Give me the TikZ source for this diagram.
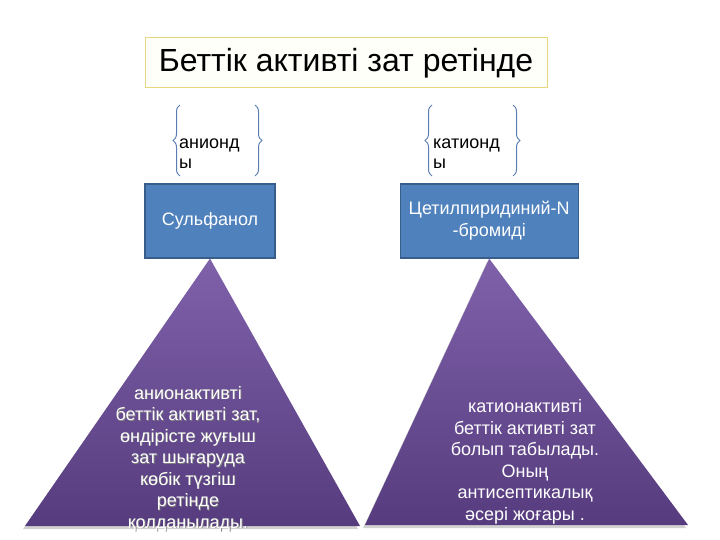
\documentclass[tikz,border=0pt]{standalone}
\usepackage{fontspec}
\setsansfont{Liberation Sans}
\usetikzlibrary{decorations.pathreplacing, positioning, calc}
\tikzstyle{every picture}+=[font=\sffamily]
\tikzstyle{bluebox}=[draw=boxborder, fill=boxblue, line width=1.2pt, text=white,
  align=center, minimum height=74pt, inner sep=2pt,
  font=\sffamily\fontsize{18}{22}\selectfont]
\tikzstyle{bracelabel}=[anchor=base west, align=left, inner sep=0pt,
  font=\sffamily\fontsize{18}{20}\selectfont]
\tikzstyle{curly}=[draw=bracecol, line width=1pt, decorate,
  decoration={brace, amplitude=7pt, aspect=0.5}]
\tikzstyle{pyramid}=[top color=pyrtop, bottom color=pyrbot, draw=none]
\tikzstyle{pyrtext}=[anchor=base, align=center, inner sep=0pt, text=white,
  font=\sffamily\fontsize{18}{21.5}\selectfont]

\begin{document}
\begin{tikzpicture}[x=1pt, y=-1pt]
\definecolor{boxblue}{RGB}{79,129,189}
\definecolor{boxborder}{RGB}{56,93,138}
\definecolor{bracecol}{RGB}{91,125,177}
\definecolor{pyrtop}{RGB}{127,97,170}
\definecolor{pyrbot}{RGB}{86,60,126}
\definecolor{titleline}{RGB}{232,214,125}
\definecolor{titlefill}{RGB}{255,255,249}
\useasboundingbox (0,0) rectangle (720,540);

%% title
\node (title) [draw=titleline, fill=titlefill, line width=1pt,
  minimum width=402pt, minimum height=50pt,
  font=\sffamily\fontsize{32}{36}\selectfont] at (346,63) {Беттік активті зат ретінде};

%% boxes
\node (sulf) [bluebox, minimum width=130pt] at (210,221) {Сульфанол};
\node (cetyl) [bluebox, minimum width=178pt, right=124pt of sulf]
  {Цетилпиридиний-N\\-бромиді};

%% braces
\node (anion) [bracelabel] at (179,169) {анионд\\ы};
\draw[curly] (180,176) -- (180,105);
\draw[curly] (255,105) -- (255,176);

\node (cation) [bracelabel] at (433,169) {катионд\\ы};
\draw[curly] (432,176) -- (432,105);
\draw[curly] (513,105) -- (513,176);

%% pyramids
\coordinate (ltop) at (sulf.south);
\coordinate (rtop) at (cetyl.south);
\fill[black!18] ($(ltop)+(-2,3)$) -- (23,529) -- (358,529) -- cycle;
\fill[black!18] ($(rtop)+(-2,3)$) -- (363,528) -- (686,528) -- cycle;
\path[pyramid] (ltop) -- (25,526) -- (360,526) -- cycle;
\path[pyramid] (rtop) -- (365,525) -- (688,525) -- cycle;

\node (anitextshadow) [pyrtext, text=black!50] at (188.8,528.8)
  {анионактивті\\беттік активті зат,\\өндірісте жуғыш\\зат шығаруда\\көбік түзгіш\\ретінде\\қолданылады.};
\node (anitext) [pyrtext] at (188,528)
  {анионактивті\\беттік активті зат,\\өндірісте жуғыш\\зат шығаруда\\көбік түзгіш\\ретінде\\қолданылады.};
\node (cattext) [pyrtext] at (525,520)
  {катионактивті\\беттік активті зат\\болып табылады.\\Оның\\антисептикалық\\әсері жоғары .};

\end{tikzpicture}
\end{document}
